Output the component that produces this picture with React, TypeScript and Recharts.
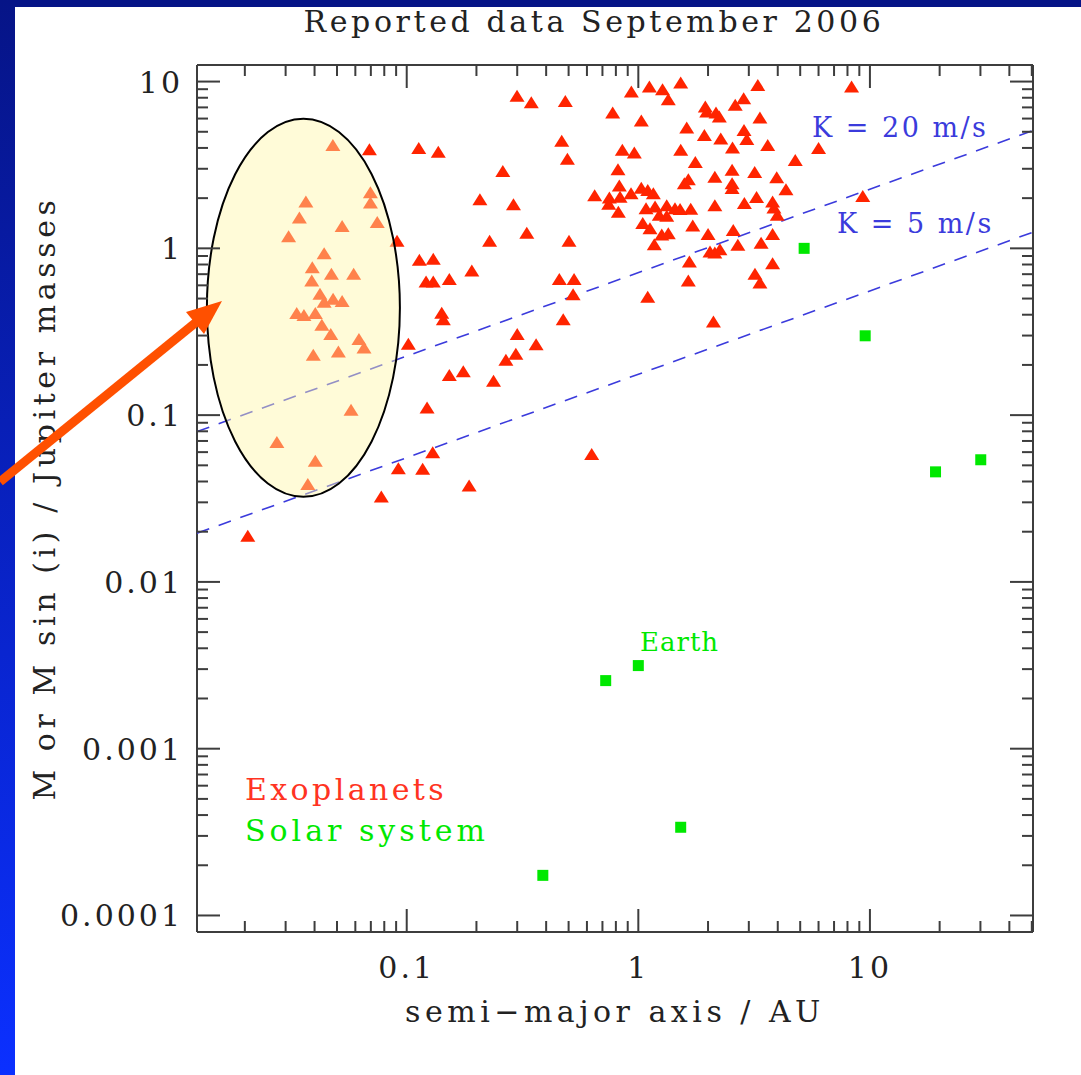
import React from "react";
import { ScatterChart, Scatter, XAxis, YAxis } from "recharts";

// axis ranges (AU, Jupiter masses)
const X_DOMAIN = [0.01243, 50.6];
const Y_DOMAIN = [0.0000796, 12.57];

const X_TICKS = [
  0.02, 0.03, 0.04, 0.05, 0.06, 0.07, 0.08, 0.09,
  0.1, 0.2, 0.3, 0.4, 0.5, 0.6, 0.7, 0.8, 0.9,
  1, 2, 3, 4, 5, 6, 7, 8, 9,
  10, 20, 30, 40, 50,
];
const Y_TICKS = [
  0.0001, 0.0002, 0.0003, 0.0004, 0.0005, 0.0006, 0.0007, 0.0008, 0.0009,
  0.001, 0.002, 0.003, 0.004, 0.005, 0.006, 0.007, 0.008, 0.009,
  0.01, 0.02, 0.03, 0.04, 0.05, 0.06, 0.07, 0.08, 0.09,
  0.1, 0.2, 0.3, 0.4, 0.5, 0.6, 0.7, 0.8, 0.9,
  1, 2, 3, 4, 5, 6, 7, 8, 9,
  10,
];

// planets under the highlighted ellipse (hot Jupiters)
const HOT_JUPITERS = [
  { a: 0.048, m: 4.17 }, { a: 0.0367, m: 1.91 }, { a: 0.0344, m: 1.53 },
  { a: 0.0309, m: 1.18 }, { a: 0.0526, m: 1.36 }, { a: 0.0697, m: 2.17 },
  { a: 0.0697, m: 1.88 }, { a: 0.0746, m: 1.44 }, { a: 0.044, m: 0.936 },
  { a: 0.0391, m: 0.771 }, { a: 0.0473, m: 0.703 }, { a: 0.059, m: 0.703 },
  { a: 0.0389, m: 0.641 }, { a: 0.0422, m: 0.534 }, { a: 0.044, m: 0.478 },
  { a: 0.0481, m: 0.498 }, { a: 0.0526, m: 0.484 }, { a: 0.0335, m: 0.409 },
  { a: 0.036, m: 0.399 }, { a: 0.0403, m: 0.409 }, { a: 0.043, m: 0.348 },
  { a: 0.047, m: 0.307 }, { a: 0.0622, m: 0.286 }, { a: 0.0654, m: 0.254 },
  { a: 0.0395, m: 0.23 }, { a: 0.0507, m: 0.241 }, { a: 0.0575, m: 0.1076 },
  { a: 0.0275, m: 0.0689 }, { a: 0.0403, m: 0.0532 }, { a: 0.0374, m: 0.0387 },
];

const EXOPLANETS = [
  { a: 0.069, m: 3.93 }, { a: 0.1127, m: 3.99 }, { a: 0.1369, m: 3.8 },
  { a: 0.0908, m: 1.11 }, { a: 0.1134, m: 0.853 }, { a: 0.1302, m: 0.865 },
  { a: 0.1212, m: 0.632 }, { a: 0.1302, m: 0.632 }, { a: 0.1416, m: 0.411 },
  { a: 0.1439, m: 0.376 }, { a: 0.1016, m: 0.268 }, { a: 0.1224, m: 0.111 },
  { a: 0.1295, m: 0.06 }, { a: 0.092, m: 0.0481 }, { a: 0.1172, m: 0.0477 },
  { a: 0.0777, m: 0.0325 }, { a: 0.0206, m: 0.0189 }, { a: 0.2995, m: 8.21 },
  { a: 0.345, m: 7.52 }, { a: 0.484, m: 7.66 }, { a: 0.933, m: 8.71 },
  { a: 1.116, m: 9.33 }, { a: 1.272, m: 9.0 }, { a: 1.347, m: 7.84 },
  { a: 0.775, m: 6.52 }, { a: 1.03, m: 5.84 }, { a: 0.467, m: 4.41 },
  { a: 0.494, m: 3.44 }, { a: 0.853, m: 3.9 }, { a: 0.961, m: 3.75 },
  { a: 0.26, m: 2.91 }, { a: 0.817, m: 2.98 }, { a: 0.207, m: 1.97 },
  { a: 0.289, m: 1.84 }, { a: 0.648, m: 2.08 }, { a: 0.828, m: 2.38 },
  { a: 0.75, m: 2.02 }, { a: 0.834, m: 2.04 }, { a: 0.93, m: 2.14 },
  { a: 0.745, m: 1.85 }, { a: 0.82, m: 1.66 }, { a: 1.03, m: 2.31 },
  { a: 1.098, m: 2.24 }, { a: 1.161, m: 2.14 }, { a: 1.08, m: 1.74 },
  { a: 1.181, m: 1.78 }, { a: 1.326, m: 1.81 }, { a: 1.232, m: 1.59 },
  { a: 1.326, m: 1.57 }, { a: 1.045, m: 1.42 }, { a: 1.123, m: 1.32 },
  { a: 1.262, m: 1.21 }, { a: 1.347, m: 1.23 }, { a: 1.172, m: 1.06 },
  { a: 0.33, m: 1.24 }, { a: 0.228, m: 1.11 }, { a: 0.502, m: 1.11 },
  { a: 0.1527, m: 0.654 }, { a: 0.191, m: 0.736 }, { a: 0.456, m: 0.656 },
  { a: 0.528, m: 0.654 }, { a: 0.523, m: 0.531 }, { a: 1.098, m: 0.512 },
  { a: 1.524, m: 9.86 }, { a: 3.28, m: 9.55 }, { a: 8.33, m: 9.33 },
  { a: 1.618, m: 5.3 }, { a: 1.947, m: 7.08 }, { a: 1.974, m: 6.61 },
  { a: 2.165, m: 6.52 }, { a: 2.237, m: 6.17 }, { a: 2.62, m: 7.25 },
  { a: 2.85, m: 7.95 }, { a: 3.35, m: 6.08 }, { a: 1.928, m: 4.79 },
  { a: 2.27, m: 4.55 }, { a: 2.55, m: 4.02 }, { a: 2.86, m: 5.13 },
  { a: 2.94, m: 4.52 }, { a: 3.62, m: 4.16 }, { a: 1.524, m: 3.9 },
  { a: 1.762, m: 3.29 }, { a: 2.54, m: 2.96 }, { a: 3.18, m: 2.87 },
  { a: 2.14, m: 2.69 }, { a: 1.644, m: 2.6 }, { a: 1.58, m: 2.46 },
  { a: 2.54, m: 2.46 }, { a: 2.54, m: 2.3 }, { a: 3.96, m: 2.67 },
  { a: 4.34, m: 2.26 }, { a: 4.76, m: 3.39 }, { a: 6.0, m: 3.99 },
  { a: 9.31, m: 2.06 }, { a: 1.44, m: 1.74 }, { a: 1.514, m: 1.72 },
  { a: 1.684, m: 1.73 }, { a: 1.718, m: 1.37 }, { a: 2.14, m: 1.81 },
  { a: 2.87, m: 1.87 }, { a: 3.24, m: 2.03 }, { a: 3.8, m: 1.91 },
  { a: 3.85, m: 1.76 }, { a: 3.98, m: 1.59 }, { a: 2.0, m: 1.22 },
  { a: 2.57, m: 1.29 }, { a: 3.8, m: 1.22 }, { a: 3.39, m: 1.08 },
  { a: 2.69, m: 1.05 }, { a: 2.04, m: 0.957 }, { a: 2.14, m: 0.944 },
  { a: 2.25, m: 0.989 }, { a: 1.661, m: 0.833 }, { a: 3.8, m: 0.815 },
  { a: 1.644, m: 0.641 }, { a: 3.19, m: 0.703 }, { a: 3.35, m: 0.624 },
  { a: 2.11, m: 0.364 }, { a: 0.474, m: 0.376 }, { a: 0.3, m: 0.306 },
  { a: 0.362, m: 0.266 }, { a: 0.296, m: 0.233 }, { a: 0.268, m: 0.215 },
  { a: 0.1527, m: 0.174 }, { a: 0.1755, m: 0.183 }, { a: 0.237, m: 0.161 },
  { a: 0.629, m: 0.0584 }, { a: 0.186, m: 0.0378 },
];

const SOLAR_NAMES = ["Mercury", "Venus", "Earth", "Mars", "Jupiter", "Saturn", "Uranus", "Neptune"];
const SOLAR_A = [0.387, 0.723, 1.0, 1.524, 5.2, 9.54, 19.2, 30.1];
const SOLAR_M = [0.000174, 0.00256, 0.00315, 0.000338, 1.0, 0.299, 0.0457, 0.054];

// radial-velocity detection limits
const K20_LINE = [{ a: 0.01243, m: 0.0797 }, { a: 50.6, m: 5.09 }];
const K5_LINE = [{ a: 0.01243, m: 0.0196 }, { a: 50.6, m: 1.25 }];

// centre of the highlighted region
const HOT_ZONE = [{ a: 0.0358, m: 0.44 }];

const solarData = SOLAR_NAMES.map((name, i) => ({ name, a: SOLAR_A[i], m: SOLAR_M[i] }));

const FONT = "'DejaVu Serif', serif";
const AXIS_COLOR = "#3d3d3d";
const RED = "#ff2400";
const GREEN = "#00e800";
const BLUE = "#3b3bdc";

const isMajor = (v: number) => Math.abs(Math.log10(v) - Math.round(Math.log10(v))) < 1e-6;

function BoxTick(props: any) {
  const { x, y, payload, side } = props;
  const v = Number(payload.value);
  const major = isMajor(v);
  const len = major ? 23 : 11;
  let line = null;
  let label = null;
  if (side === "bottom") {
    line = <line x1={x} y1={y} x2={x} y2={y - len} />;
    if (major)
      label = (
        <text x={x} y={y + 46} textAnchor="middle" fontSize={30} letterSpacing={3} fill="#222" stroke="none">
          {String(v)}
        </text>
      );
  } else if (side === "top") {
    line = <line x1={x} y1={y} x2={x} y2={y + len} />;
  } else if (side === "left") {
    line = <line x1={x} y1={y} x2={x + len} y2={y} />;
    if (major)
      label = (
        <text x={x - 14} y={y + 11} textAnchor="end" fontSize={30} letterSpacing={3} fill="#222" stroke="none">
          {String(v)}
        </text>
      );
  } else {
    line = <line x1={x} y1={y} x2={x - len} y2={y} />;
  }
  return (
    <g stroke={AXIS_COLOR} strokeWidth={2} fontFamily={FONT}>
      {line}
      {label}
    </g>
  );
}

function Triangle(props: any) {
  const { cx, cy } = props;
  return <polygon points={`${cx},${cy - 6} ${cx - 7.5},${cy + 6} ${cx + 7.5},${cy + 6}`} fill={RED} />;
}

function Square(props: any) {
  const { cx, cy } = props;
  return <rect x={cx - 5.5} y={cy - 5.5} width={11} height={11} fill={GREEN} />;
}

function HotZone(props: any) {
  const { cx, cy } = props;
  return (
    <ellipse cx={cx} cy={cy} rx={96.5} ry={189} fill="#fff6a8" fillOpacity={0.45} stroke="#000" strokeWidth={2} />
  );
}

const Nothing = () => <g />;

export default function App() {
  return (
    <div style={{ position: "absolute", left: 0, top: 0, width: 1081, height: 1075, background: "#fff", overflow: "hidden" }}>
      <div style={{ position: "absolute", left: 0, top: 0, width: 1081, height: 7, background: "#061487" }} />
      <div
        style={{
          position: "absolute",
          left: 0,
          top: 0,
          width: 15,
          height: 1075,
          background: "linear-gradient(to bottom, #061487, #0b30ff)",
        }}
      />
      <div style={{ position: "absolute", left: 0, top: 0 }}>
        <ScatterChart width={1081} height={1075} margin={{ top: 55, right: 38, bottom: 83, left: 97 }}>
          <XAxis
            dataKey="a"
            type="number"
            scale="log"
            domain={X_DOMAIN}
            allowDataOverflow
            ticks={X_TICKS}
            interval={0}
            height={60}
            tickSize={0}
            tickMargin={0}
            tickLine={false}
            axisLine={{ stroke: AXIS_COLOR, strokeWidth: 2 }}
            tick={(p: any) => <BoxTick {...p} side="bottom" />}
          />
          <XAxis
            xAxisId="top"
            orientation="top"
            dataKey="a"
            type="number"
            scale="log"
            domain={X_DOMAIN}
            allowDataOverflow
            ticks={X_TICKS}
            interval={0}
            height={10}
            tickSize={0}
            tickMargin={0}
            tickLine={false}
            axisLine={{ stroke: AXIS_COLOR, strokeWidth: 2 }}
            tick={(p: any) => <BoxTick {...p} side="top" />}
          />
          <YAxis
            dataKey="m"
            type="number"
            scale="log"
            domain={Y_DOMAIN}
            allowDataOverflow
            ticks={Y_TICKS}
            interval={0}
            width={100}
            tickSize={0}
            tickMargin={0}
            tickLine={false}
            axisLine={{ stroke: AXIS_COLOR, strokeWidth: 2 }}
            tick={(p: any) => <BoxTick {...p} side="left" />}
          />
          <YAxis
            yAxisId="right"
            orientation="right"
            dataKey="m"
            type="number"
            scale="log"
            domain={Y_DOMAIN}
            allowDataOverflow
            ticks={Y_TICKS}
            interval={0}
            width={10}
            tickSize={0}
            tickMargin={0}
            tickLine={false}
            axisLine={{ stroke: AXIS_COLOR, strokeWidth: 2 }}
            tick={(p: any) => <BoxTick {...p} side="right" />}
          />
          <Scatter
            data={K20_LINE}
            line={{ stroke: BLUE, strokeWidth: 1.6, strokeDasharray: "13 10" }}
            shape={Nothing}
            isAnimationActive={false}
          />
          <Scatter
            data={K5_LINE}
            line={{ stroke: BLUE, strokeWidth: 1.6, strokeDasharray: "13 10" }}
            shape={Nothing}
            isAnimationActive={false}
          />
          <Scatter data={EXOPLANETS} shape={Triangle} isAnimationActive={false} />
          <Scatter data={HOT_JUPITERS} shape={Triangle} isAnimationActive={false} />
          <Scatter data={solarData} shape={Square} isAnimationActive={false} />
          <Scatter data={HOT_ZONE} shape={HotZone} isAnimationActive={false} />
        </ScatterChart>
      </div>
      <svg
        width={1081}
        height={1075}
        style={{ position: "absolute", left: 0, top: 0, pointerEvents: "none" }}
        fontFamily={FONT}
      >
        <text x={594} y={32} textAnchor="middle" fontSize={30} letterSpacing={3.6} fill="#222">
          Reported data September 2006
        </text>
        <text x={615} y={1022} textAnchor="middle" fontSize={30} letterSpacing={4.5} fill="#222">
          semi−major axis / AU
        </text>
        <text
          x={55}
          y={498}
          transform="rotate(-90, 55, 498)"
          textAnchor="middle"
          fontSize={30}
          letterSpacing={4.6}
          fill="#222"
        >
          M or M sin (i) / Jupiter masses
        </text>
        <text x={812} y={137} fontSize={27} letterSpacing={2.5} fill={BLUE}>
          K = 20 m/s
        </text>
        <text x={837} y={233} fontSize={27} letterSpacing={2.5} fill={BLUE}>
          K = 5 m/s
        </text>
        <text x={640} y={651} fontSize={26} letterSpacing={1} fill={GREEN}>
          Earth
        </text>
        <text x={245} y={800} fontSize={30} letterSpacing={3.4} fill="#ff3322">
          Exoplanets
        </text>
        <text x={245} y={841} fontSize={30} letterSpacing={4} fill={GREEN}>
          Solar system
        </text>
        <line x1={0} y1={481.7} x2={197} y2={321.5} stroke="#ff5000" strokeWidth={9} />
        <polygon points="222,301 186,312 204,334" fill="#ff5000" />
      </svg>
    </div>
  );
}
